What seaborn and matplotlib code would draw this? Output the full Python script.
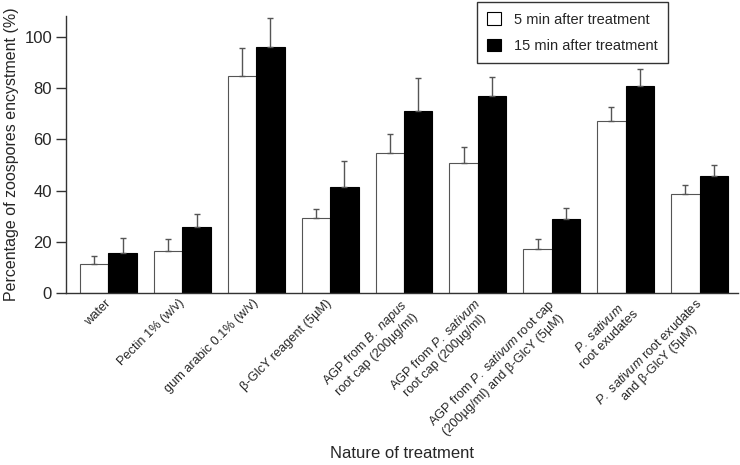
import matplotlib
matplotlib.use("Agg")
import matplotlib.pyplot as plt
import matplotlib.transforms as mtransforms
import seaborn as sns
import pandas as pd
import numpy as np

categories = [
    "water",
    "Pectin 1% (w/v)",
    "gum arabic 0.1% (w/v)",
    "β-GlcY reagent (5µM)",
    "AGP from $\\it{B.\\ napus}$\nroot cap (200µg/ml)",
    "AGP from $\\it{P.\\ sativum}$\nroot cap (200µg/ml)",
    "AGP from $\\it{P.\\ sativum}$ root cap\n(200µg/ml) and β-GlcY (5µM)",
    "$\\it{P.\\ sativum}$\nroot exudates",
    "$\\it{P.\\ sativum}$ root exudates\nand β-GlcY (5µM)",
]
series_names = ["5 min after treatment", "15 min after treatment"]
five_min = [11.2, 16.4, 84.8, 29.2, 54.8, 50.7, 17.1, 67.1, 38.6]
five_min_err = [3.1, 4.6, 10.8, 3.5, 7.2, 6.3, 4.1, 5.7, 3.5]
fifteen_min = [15.5, 25.7, 96.2, 41.3, 71.2, 77.1, 29.0, 80.7, 45.7]
fifteen_min_err = [5.9, 5.0, 11.2, 10.3, 12.8, 7.3, 4.1, 6.7, 4.3]
yticks = [0, 20, 40, 60, 80, 100]

sns.set_theme(style="ticks")
plt.rcParams["font.family"] = ["Liberation Sans", "DejaVu Sans"]
plt.rcParams["mathtext.fontset"] = "custom"
plt.rcParams["mathtext.rm"] = "Liberation Sans"
plt.rcParams["mathtext.it"] = "Liberation Sans:italic"

keys = [str(i) for i in range(len(categories))]
df = pd.DataFrame({
    "cat": keys * 2,
    "series": [series_names[0]] * len(keys) + [series_names[1]] * len(keys),
    "value": five_min + fifteen_min,
})

fig = plt.figure(figsize=(7.4, 4.65), dpi=100)
ax = fig.add_axes([66 / 740, 1 - 293 / 465, 672 / 740, 277 / 465])

sns.barplot(data=df, x="cat", y="value", hue="series", order=keys,
            hue_order=series_names, palette=["white", "black"],
            width=0.77, gap=0, errorbar=None, ax=ax, legend=False)

edge_colors = ["#555555", "black"]
errs = [five_min_err, fifteen_min_err]
for cont, ec, err in zip(ax.containers, edge_colors, errs):
    xs, hs = [], []
    for p in cont.patches:
        p.set_edgecolor(ec)
        p.set_linewidth(0.8)
        xs.append(p.get_x() + p.get_width() / 2)
        hs.append(p.get_height())
    ax.errorbar(xs, hs, yerr=[np.zeros(len(err)), err], fmt="none",
                ecolor="#555555", elinewidth=1.0, capsize=2.5, capthick=1.0,
                zorder=1)

ax.set_xlim(-0.575, 8.52)
ax.set_ylim(0, 108.2)
ax.set_yticks(yticks)
ax.set_yticklabels([str(t) for t in yticks], fontsize=12)
ax.tick_params(axis="y", length=7, width=1, color="#333333", pad=3)
ax.tick_params(axis="x", length=0, pad=3)
ax.set_xticks(range(len(categories)))
ax.set_xticklabels(categories, rotation=45, ha="right", va="top",
                   rotation_mode="anchor", fontsize=9.2,
                   multialignment="center")
offset = mtransforms.ScaledTranslation(-4 / 100, 0, fig.dpi_scale_trans)
for lab in ax.get_xticklabels():
    lab.set_transform(lab.get_transform() + offset)

for s in ["top", "right"]:
    ax.spines[s].set_visible(False)
for s in ["left", "bottom"]:
    ax.spines[s].set_color("#333333")
    ax.spines[s].set_linewidth(1.0)

ax.set_ylabel("Percentage of zoospores encystment (%)", fontsize=11.5, labelpad=4)
ax.set_xlabel("")
fig.text(402 / 740, 1 - 453 / 465, "Nature of treatment", ha="center",
         va="center", fontsize=12)

handles = [plt.Rectangle((0, 0), 1, 1, facecolor="white", edgecolor="black", linewidth=0.8),
           plt.Rectangle((0, 0), 1, 1, facecolor="black", edgecolor="black", linewidth=0.8)]
leg = ax.legend(handles, series_names, loc="upper left",
                bbox_to_anchor=(477 / 740, 1 - 2 / 465),
                bbox_transform=fig.transFigure, borderaxespad=0,
                fontsize=10.5, frameon=True, fancybox=False,
                handlelength=0.95, handleheight=0.95, handletextpad=0.9,
                labelspacing=0.85, borderpad=0.7)
leg.get_frame().set_edgecolor("black")
leg.get_frame().set_linewidth(1.0)

fig.savefig("out.png", dpi=100)
